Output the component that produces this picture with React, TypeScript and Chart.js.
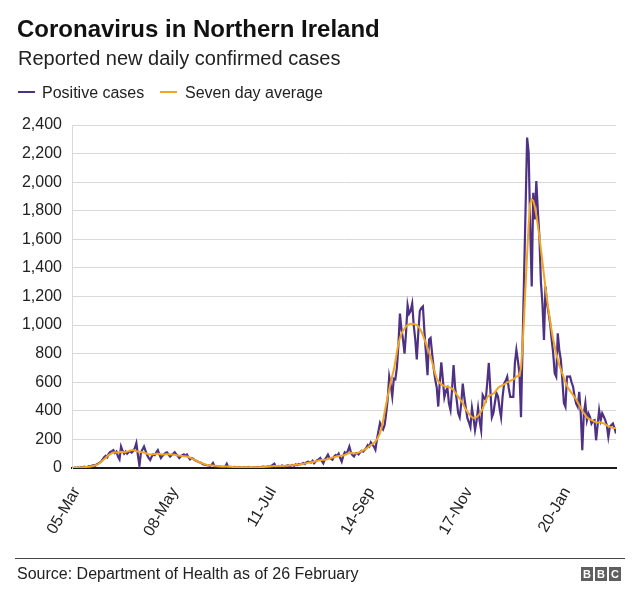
import React, { useEffect, useRef } from 'react';
import { Chart, registerables } from 'chart.js';

Chart.register(...registerables);

const FONT = '"Liberation Sans", Arial, Helvetica, sans-serif';
const PURPLE = '#4e3085';
const ORANGE = '#f2a521';

// x positions of the labelled ticks (day index from 02-Mar-2020) and their labels
const tickDays = [3, 67, 131, 195, 259, 323];
const tickLabels = ['05-Mar', '08-May', '11-Jul', '14-Sep', '17-Nov', '20-Jan'];
const yTicks = [0, 200, 400, 600, 800, 1000, 1200, 1400, 1600, 1800, 2000, 2200, 2400];

// Positive cases, one value per day starting 02-Mar-2020
const positiveCases = [
  1, 0, 2, 1, 4, 2, 6, 3, 9, 7,
  5, 12, 10, 16, 20, 15, 25, 30, 38, 45,
  60, 75, 85, 75, 100, 112, 118, 125, 105, 115,
  80, 60, 150, 120, 100, 115, 100, 112, 115, 108,
  120, 140, 175, 90, 15, 110, 130, 150, 120, 90,
  70, 55, 80, 95, 90, 110, 125, 95, 70, 85,
  95, 105, 110, 95, 80, 90, 100, 110, 95, 85,
  70, 80, 90, 95, 85, 95, 75, 60, 70, 65,
  55, 50, 45, 40, 38, 30, 25, 22, 20, 18,
  15, 20, 35, 12, 10, 8, 12, 9, 6, 8,
  10, 30, 5, 8, 6, 4, 7, 5, 3, 6,
  4, 2, 6, 5, 3, 8, 4, 2, 5, 6,
  3, 7, 5, 4, 8, 10, 6, 9, 12, 8,
  14, 22, 30, 8, 12, 15, 11, 18, 14, 10,
  16, 20, 12, 18, 22, 15, 25, 20, 28, 25,
  30, 35, 28, 40, 45, 42, 38, 50, 33, 45,
  55, 60, 70, 50, 33, 60, 75, 93, 70, 65,
  58, 80, 90, 85, 100, 70, 45, 85, 110, 100,
  120, 150, 110, 90, 80, 100, 105, 95, 110, 120,
  115, 128, 140, 160, 150, 180, 165, 150, 128, 200,
  260, 315, 290, 270, 300, 380, 480, 640, 580, 500,
  625, 620, 700, 860, 1080, 970, 900, 800, 950, 1140,
  1080, 1100, 1150, 1000, 900, 760, 950, 1100, 1120, 1130,
  950, 800, 650, 900, 910, 800, 700, 620, 565, 430,
  600, 740, 620, 495, 540, 560, 450, 405, 550, 720,
  565, 480, 385, 355, 450, 590, 495, 420, 350, 320,
  285, 420, 350, 265, 330, 420, 330, 265, 510, 490,
  475, 600, 735, 550, 355, 385, 460, 525, 500, 420,
  355, 500, 590, 610, 639, 560, 498, 498, 498, 733,
  826, 750, 663, 355, 845, 1334, 1823, 2312, 2207, 1700,
  1270, 1926, 1739, 2008, 1800, 1622, 1300, 1150, 896, 1270,
  1150, 1084, 1013, 900, 803, 663, 639, 943, 826, 756,
  616, 454, 428, 639, 639, 640, 600, 569, 498, 450,
  428, 533, 382, 124, 382, 454, 335, 382, 358, 311,
  330, 335, 194, 300, 405, 335, 382, 360, 335, 300,
  218, 288, 300, 311, 280, 241,
];

// Seven day average
const sevenDayAverage = [
  1, 1, 2, 2, 3, 4, 4, 5, 6, 7,
  8, 9, 11, 13, 15, 18, 22, 28, 35, 43,
  52, 62, 72, 82, 90, 97, 103, 108, 110, 108,
  107, 110, 113, 112, 110, 112, 115, 118, 122, 125,
  126, 122, 118, 115, 113, 112, 110, 108, 104, 100,
  97, 95, 95, 96, 98, 100, 100, 98, 96, 95,
  95, 96, 97, 96, 95, 94, 93, 92, 90, 88,
  86, 85, 84, 83, 82, 80, 77, 73, 68, 62,
  57, 52, 47, 42, 37, 33, 29, 25, 22, 20,
  19, 18, 17, 16, 15, 14, 12, 11, 10, 10,
  11, 11, 10, 9, 8, 7, 6, 5, 5, 5,
  5, 5, 5, 5, 5, 5, 5, 5, 5, 5,
  5, 5, 6, 6, 6, 7, 8, 9, 10, 11,
  12, 13, 14, 14, 14, 14, 14, 14, 14, 15,
  16, 17, 18, 19, 20, 21, 22, 23, 24, 26,
  28, 30, 32, 34, 36, 38, 40, 42, 44, 47,
  50, 53, 55, 56, 57, 58, 60, 63, 67, 70,
  73, 76, 79, 82, 84, 85, 86, 88, 92, 97,
  102, 105, 106, 104, 103, 102, 104, 108, 113, 118,
  124, 130, 136, 143, 152, 162, 165, 175, 185, 200,
  220, 244, 280, 330, 390, 445, 500, 550, 600, 645,
  685, 745, 810, 870, 910, 940, 960, 975, 990, 1000,
  1005, 1010, 1010, 1008, 1005, 1000, 990, 975, 955, 930,
  900, 870, 840, 810, 780, 740, 700, 660, 627, 610,
  595, 585, 578, 573, 570, 569, 565, 560, 555, 545,
  530, 515, 500, 485, 470, 455, 430, 410, 395, 380,
  365, 355, 350, 350, 355, 365, 380, 395, 415, 440,
  470, 495, 505, 510, 515, 520, 530, 545, 560, 570,
  575, 580, 585, 590, 600, 605, 610, 615, 620, 630,
  640, 645, 645, 700, 850, 1050, 1280, 1500, 1700, 1850,
  1880, 1870, 1830, 1770, 1700, 1620, 1530, 1440, 1350, 1260,
  1180, 1100, 1030, 960, 900, 850, 800, 760, 720, 690,
  660, 630, 600, 575, 555, 540, 525, 510, 495, 480,
  460, 440, 420, 400, 385, 370, 355, 345, 340, 335,
  330, 325, 320, 318, 318, 318, 315, 312, 305, 298,
  292, 288, 285, 282, 280, 280,
];

const LAST_DAY = positiveCases.length - 1;

export default function App() {
  const ref = useRef<HTMLCanvasElement>(null);

  useEffect(() => {
    document.body.style.margin = '0';
    const canvas = ref.current;
    if (!canvas) return;
    const chart = new Chart(canvas, {
      type: 'line',
      data: {
        datasets: [
          {
            label: 'Seven day average',
            data: sevenDayAverage.map((y, i) => ({ x: i, y })),
            borderColor: ORANGE,
            backgroundColor: ORANGE,
            borderWidth: 2,
            pointRadius: 0,
            tension: 0,
          },
          {
            label: 'Positive cases',
            data: positiveCases.map((y, i) => ({ x: i, y })),
            borderColor: PURPLE,
            backgroundColor: PURPLE,
            borderWidth: 2.2,
            pointRadius: 0,
            tension: 0,
          },
        ],
      },
      options: {
        animation: false,
        responsive: false,
        events: [],
        layout: { padding: { top: 125, right: 24, left: 0, bottom: 0 } },
        plugins: {
          legend: { display: false },
          tooltip: { enabled: false },
          title: { display: false },
        },
        scales: {
          x: {
            type: 'linear',
            min: 0,
            max: LAST_DAY,
            grid: { display: false },
            border: { color: '#1a1a1a', width: 2 },
            afterBuildTicks: (s: any) => {
              s.ticks = tickDays.map((v) => ({ value: v }));
            },
            afterFit: (s: any) => {
              s.height = 134;
            },
            ticks: {
              autoSkip: false,
              minRotation: 60,
              maxRotation: 60,
              padding: 8,
              color: '#222',
              font: { family: FONT, size: 16 },
              callback: (v: any) => {
                const k = tickDays.indexOf(Number(v));
                return k >= 0 ? tickLabels[k] : '';
              },
            },
          },
          y: {
            min: 0,
            max: 2400,
            afterBuildTicks: (s: any) => {
              s.ticks = yTicks.map((v) => ({ value: v }));
            },
            afterFit: (s: any) => {
              s.width = 72;
            },
            grid: { color: '#d9d9d9', drawTicks: false, lineWidth: 1 },
            border: { color: '#d9d9d9', width: 1 },
            ticks: {
              padding: 10,
              color: '#222',
              font: { family: FONT, size: 16 },
              callback: (v: any) => Number(v).toLocaleString('en-US'),
            },
          },
        },
      },
    });
    return () => chart.destroy();
  }, []);

  const box: React.CSSProperties = {
    position: 'absolute',
    top: 567,
    width: 12,
    height: 14,
    background: '#5f5f5f',
    color: '#fff',
    fontFamily: FONT,
    fontWeight: 'bold',
    fontSize: 11,
    lineHeight: '14px',
    textAlign: 'center',
  };

  return (
    <div style={{ position: 'relative', width: 640, height: 602, background: '#fff', overflow: 'hidden' }}>
      <canvas ref={ref} width={640} height={602} style={{ position: 'absolute', left: 0, top: 0 }} />
      <div style={{ position: 'absolute', left: 17, top: 17, fontFamily: FONT, fontWeight: 'bold', fontSize: 24, lineHeight: '24px', color: '#111', whiteSpace: 'nowrap' }}>
        Coronavirus in Northern Ireland
      </div>
      <div style={{ position: 'absolute', left: 18, top: 48, fontFamily: FONT, fontSize: 20, lineHeight: '20px', color: '#222', whiteSpace: 'nowrap' }}>
        Reported new daily confirmed cases
      </div>
      <div style={{ position: 'absolute', left: 18, top: 91, width: 17, height: 2, background: PURPLE }} />
      <div style={{ position: 'absolute', left: 42, top: 85, fontFamily: FONT, fontSize: 16, lineHeight: '16px', color: '#222', whiteSpace: 'nowrap' }}>
        Positive cases
      </div>
      <div style={{ position: 'absolute', left: 160, top: 91, width: 17, height: 2, background: ORANGE }} />
      <div style={{ position: 'absolute', left: 185, top: 85, fontFamily: FONT, fontSize: 16, lineHeight: '16px', color: '#222', whiteSpace: 'nowrap' }}>
        Seven day average
      </div>
      <div style={{ position: 'absolute', left: 15, top: 558, width: 610, height: 1, background: '#444' }} />
      <div style={{ position: 'absolute', left: 17, top: 566, fontFamily: FONT, fontSize: 16, lineHeight: '16px', color: '#222', whiteSpace: 'nowrap' }}>
        Source: Department of Health as of 26 February
      </div>
      <div style={{ ...box, left: 581 }}>B</div>
      <div style={{ ...box, left: 595 }}>B</div>
      <div style={{ ...box, left: 609 }}>C</div>
    </div>
  );
}
